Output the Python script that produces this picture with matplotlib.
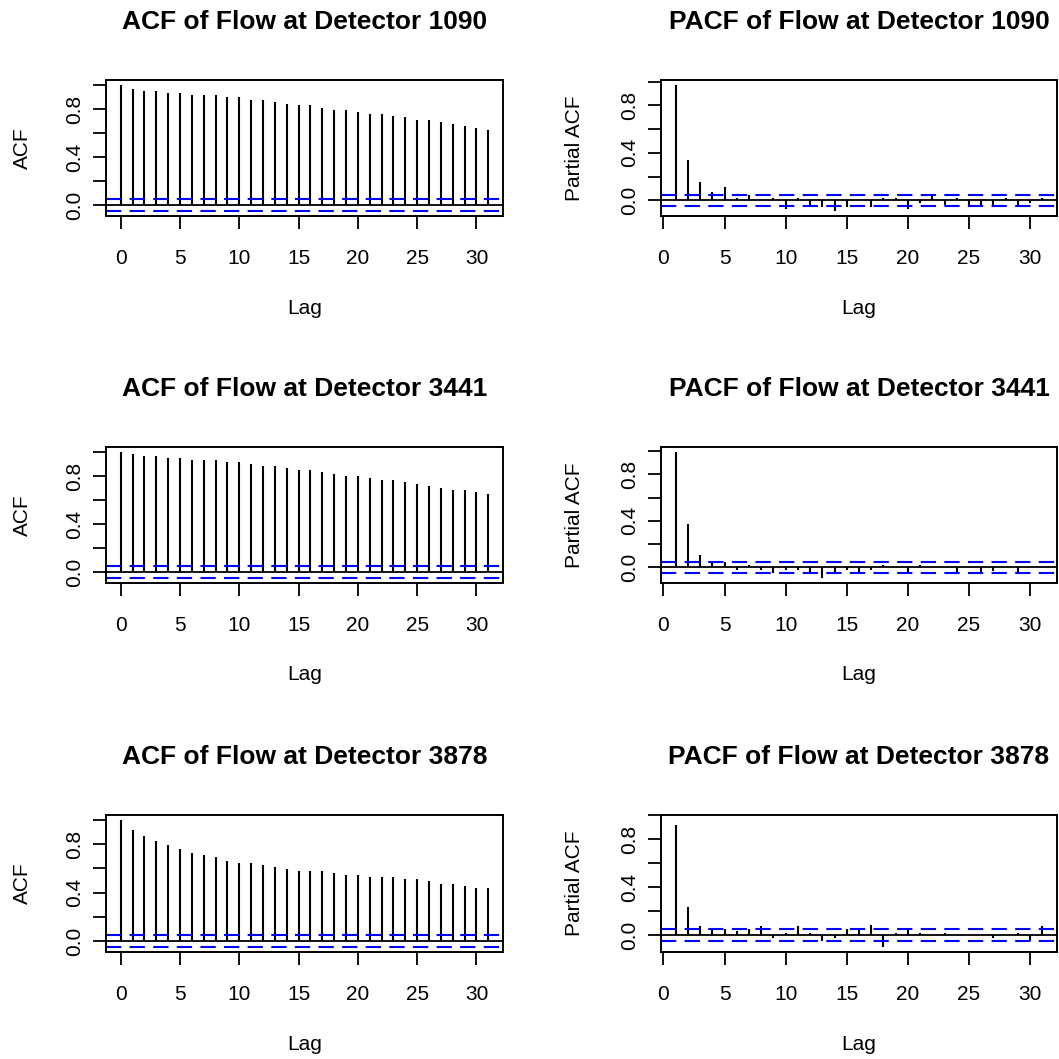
import numpy as np
import matplotlib
matplotlib.use("Agg")
import matplotlib.pyplot as plt

plt.rcParams['font.family'] = ['Liberation Sans', 'DejaVu Sans']
plt.rcParams['lines.scale_dashes'] = False

detectors = ['1090', '3441', '3878']

acf_lags = np.arange(0, 32)
pacf_lags = np.arange(1, 32)

acf_1090 = [1.0, 0.966, 0.949, 0.949, 0.932, 0.932, 0.915, 0.915, 0.915, 0.899, 0.899,
            0.879, 0.879, 0.862, 0.845, 0.831, 0.831, 0.811, 0.794, 0.794, 0.777,
            0.763, 0.763, 0.746, 0.730, 0.713, 0.713, 0.696, 0.679, 0.662, 0.645, 0.628]
acf_3441 = [1.0, 0.986, 0.969, 0.969, 0.952, 0.952, 0.936, 0.936, 0.936, 0.919, 0.919,
            0.902, 0.885, 0.885, 0.866, 0.852, 0.852, 0.835, 0.818, 0.801, 0.801,
            0.784, 0.768, 0.768, 0.751, 0.734, 0.717, 0.700, 0.683, 0.683, 0.667, 0.650]
acf_3878 = [1.0, 0.915, 0.865, 0.831, 0.797, 0.763, 0.730, 0.713, 0.696, 0.662, 0.645,
            0.645, 0.628, 0.611, 0.594, 0.577, 0.577, 0.577, 0.561, 0.544, 0.544,
            0.527, 0.527, 0.527, 0.510, 0.510, 0.493, 0.476, 0.476, 0.459, 0.442, 0.442]

pacf_1090 = [0.972, 0.343, 0.156, 0.071, 0.108, 0.023, 0.045, 0.004, 0.020, -0.076,
             0.020, -0.057, -0.057, -0.090, -0.057, 0.003, -0.054, 0.023, 0.017, -0.076,
             -0.023, 0.051, -0.042, 0.017, -0.057, -0.057, -0.042, 0.017, -0.057, -0.023, 0.023]
pacf_3441 = [0.991, 0.368, 0.109, 0.043, 0.049, -0.020, 0.020, -0.020, -0.050, -0.020,
             -0.020, -0.049, -0.092, -0.057, -0.020, -0.049, -0.020, 0.020, 0.003, -0.049,
             0.020, 0.002, -0.002, -0.049, 0.002, -0.049, -0.035, 0.002, -0.049, 0.002, -0.002]
pacf_3878 = [0.914, 0.234, 0.073, 0.046, 0.046, 0.032, 0.046, 0.073, -0.022, 0.019,
             0.073, 0.019, -0.049, -0.022, 0.046, 0.046, 0.086, -0.102, 0.019, 0.046,
             0.019, 0.002, 0.019, -0.002, 0.002, 0.002, -0.027, 0.002, 0.019, -0.049, 0.073]

acfs = [acf_1090, acf_3441, acf_3878]
pacfs = [pacf_1090, pacf_3441, pacf_3878]
clim = 0.048

W = H = 1059.0
fig = plt.figure(figsize=(10.59, 10.59), dpi=100)

rows_px = [(80, 216), (447, 583), (815, 952)]
cols_px = [(106, 503), (661, 1057)]

def rlim(lo, hi):
    d = 0.04 * (hi - lo)
    return lo - d, hi + d

def panel(ax, lags, vals, title, ylab, lab_off):
    vals = np.asarray(vals)
    ax.vlines(lags, 0, vals, colors='black', lw=1.5)
    ax.axhline(0, color='black', lw=1.3)
    ax.axhline(clim, color='blue', lw=1.5, linestyle=(0, (11, 6)))
    ax.axhline(-clim, color='blue', lw=1.5, linestyle=(0, (11, 6)))
    ax.set_xlim(*rlim(lags.min(), lags.max()))
    ax.set_ylim(*rlim(min(-clim, vals.min()), max(clim, vals.max())))
    ax.set_xticks([0, 5, 10, 15, 20, 25, 30])
    ax.set_yticks([0.0, 0.2, 0.4, 0.6, 0.8, 1.0])
    ax.set_yticklabels(['0.0', '', '0.4', '', '0.8', ''], rotation=90, va='center')
    ax.tick_params(axis='both', length=9.4, width=1.3, labelsize=15, color='black')
    ax.tick_params(axis='x', pad=14.5)
    ax.tick_params(axis='y', pad=6)
    for s in ax.spines.values():
        s.set_linewidth(1.4)
    ax.set_xlabel('Lag', fontsize=15, va='center')
    ax.set_ylabel(ylab, fontsize=15, va='center')
    bw, bh = ax.get_position().width * W, ax.get_position().height * H
    ax.xaxis.set_label_coords(0.5, -92 / bh)
    ax.yaxis.set_label_coords(-lab_off / bw, 0.5)
    ax.annotate(title, xy=(0.5, 1), xycoords='axes fraction', xytext=(0, 58 * 0.72),
                textcoords='offset points', ha='center', va='center',
                fontsize=19, fontweight='bold')

for i, det in enumerate(detectors):
    top, bot = rows_px[i]
    for j in range(2):
        x0, x1 = cols_px[j]
        ax = fig.add_axes([x0 / W, 1 - bot / H, (x1 - x0) / W, (bot - top) / H])
        if j == 0:
            panel(ax, acf_lags, acfs[i], 'ACF of Flow at Detector ' + det, 'ACF', 84)
        else:
            panel(ax, pacf_lags, pacfs[i], 'PACF of Flow at Detector ' + det, 'Partial ACF', 86)

fig.savefig('out.png', dpi=100)
